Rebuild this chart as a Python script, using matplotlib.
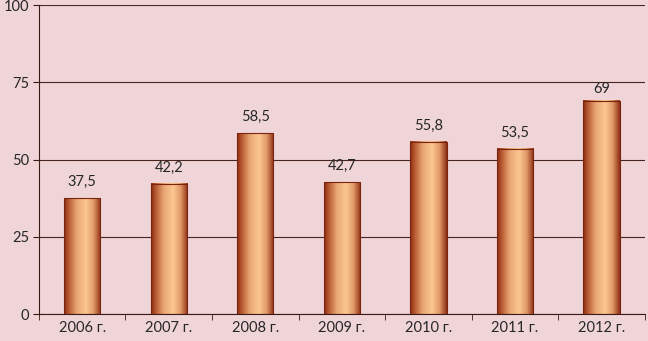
import numpy as np
import matplotlib
matplotlib.use("Agg")
import matplotlib.pyplot as plt
from matplotlib.colors import LinearSegmentedColormap

years = ["2006 г.", "2007 г.", "2008 г.", "2009 г.", "2010 г.", "2011 г.", "2012 г."]
values = [37.5, 42.2, 58.5, 42.7, 55.8, 53.5, 69]
labels = ["37,5", "42,2", "58,5", "42,7", "55,8", "53,5", "69"]

bg = "#f0d5d8"
plt.rcParams["font.family"] = ["Lato", "DejaVu Sans"]

fig = plt.figure(figsize=(6.48, 3.41), dpi=100, facecolor=bg)
ax = fig.add_axes([0.060, 0.079, 0.935, 0.906], facecolor=bg)

x = np.arange(len(years))
bars = ax.bar(x, values, width=0.42, color="none", edgecolor="#7a2410", linewidth=0.8, zorder=3)

# horizontal gradient: dark edges, light stripe right of centre
cmap = LinearSegmentedColormap.from_list(
    "bar", [(0.0, "#8a2a12"), (0.12, "#b5582f"), (0.35, "#eaa774"),
            (0.6, "#fcc792"), (0.8, "#e19a68"), (1.0, "#8e2e14")])
grad = np.linspace(0, 1, 256).reshape(1, -1)
for b in bars:
    x0, w, h = b.get_x(), b.get_width(), b.get_height()
    ax.imshow(grad, cmap=cmap, aspect="auto", extent=(x0, x0 + w, 0, h),
              zorder=2, interpolation="bilinear")

for xi, v, t in zip(x, values, labels):
    off = 1.5 if v > 65 else 3
    ax.text(xi, v + off, t, ha="center", va="bottom", fontsize=10.5, color="#262626")

ax.set_xlim(-0.5, len(years) - 0.5)
ax.set_ylim(0, 100)
ax.set_yticks([0, 25, 50, 75, 100])
ax.set_xticks(x)
ax.set_xticklabels(years)
ax.set_xticks(np.arange(len(years) + 1) - 0.5, minor=True)
ax.tick_params(axis="x", which="major", length=0, pad=5, labelsize=10.5, labelcolor="#262626")
ax.tick_params(axis="x", which="minor", length=4, color="#3a1a14", direction="out")
ax.tick_params(axis="y", length=4, color="#3a1a14", labelsize=10.5, labelcolor="#262626", pad=3)
ax.yaxis.grid(True, color="#4a2420", linewidth=0.8, zorder=1)
ax.set_axisbelow(True)
for s in ["top", "right"]:
    ax.spines[s].set_visible(False)
ax.spines["left"].set_color("#3a1a14")
ax.spines["bottom"].set_color("#3a1a14")

fig.savefig("out.png", dpi=100, facecolor=bg)
